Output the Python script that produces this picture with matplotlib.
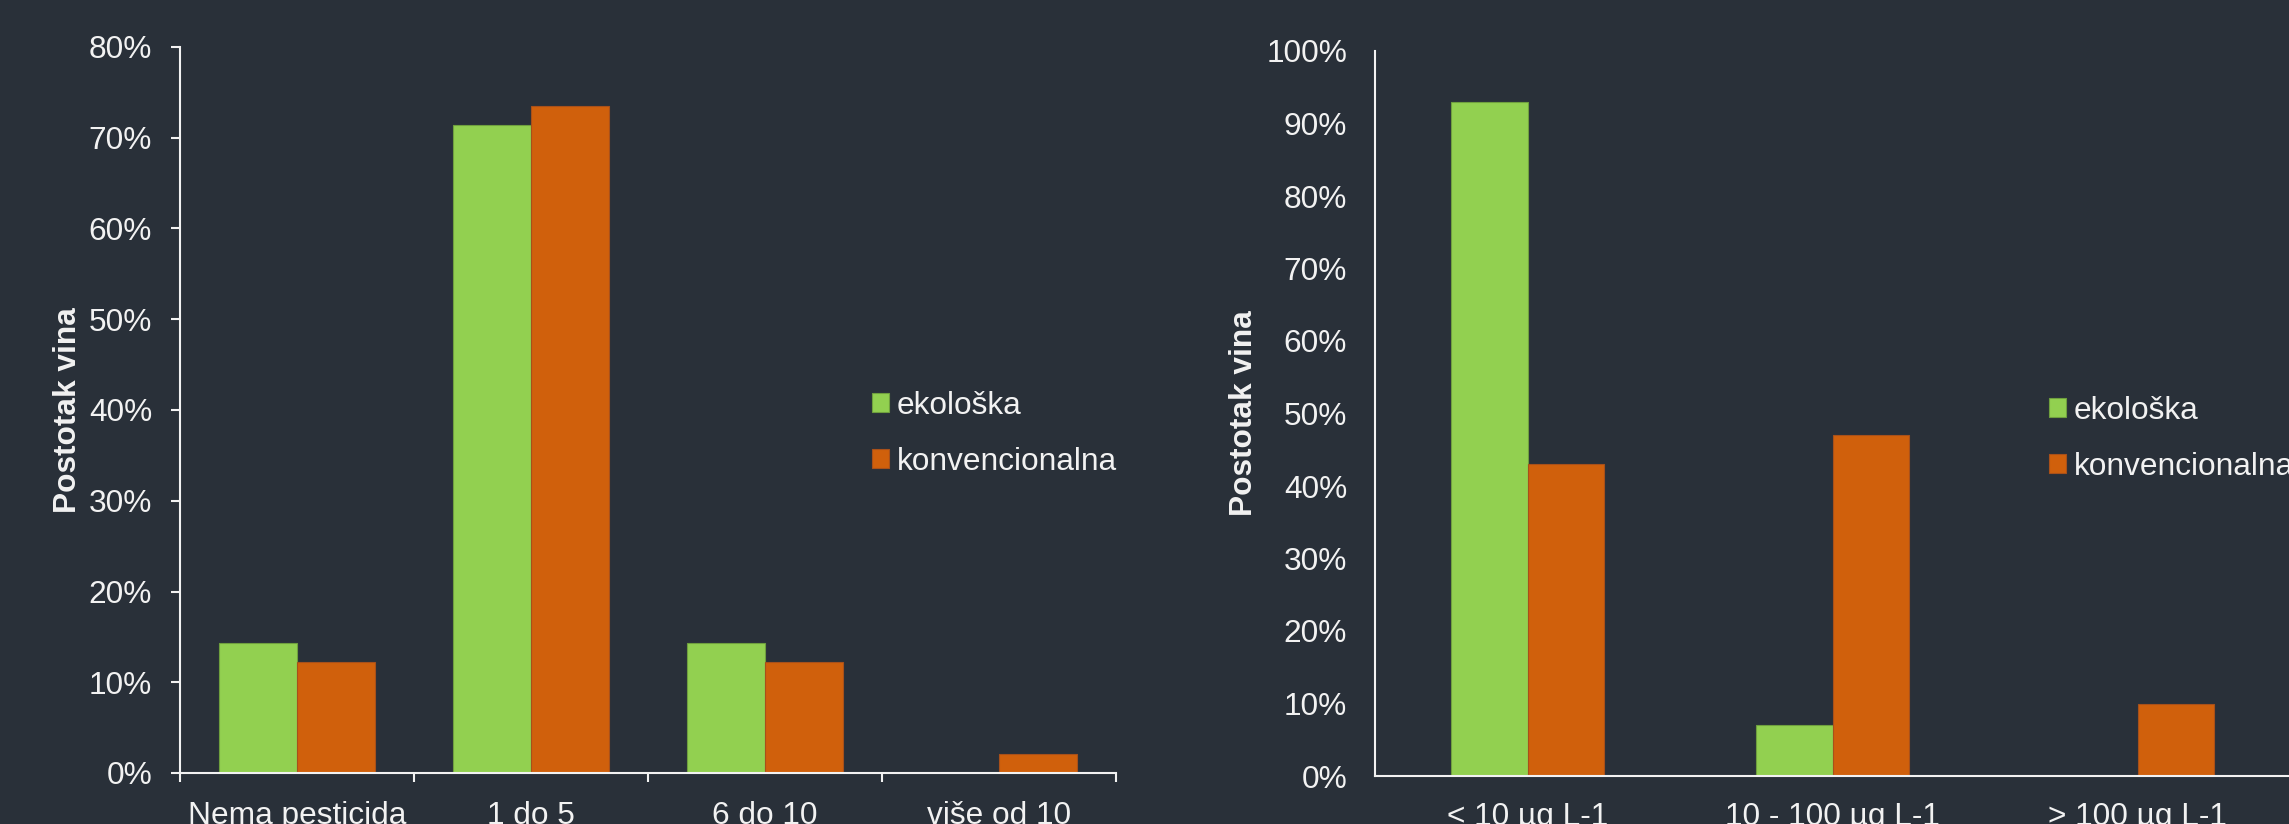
import matplotlib
matplotlib.use("Agg")
import matplotlib.pyplot as plt
from matplotlib.ticker import PercentFormatter, FixedLocator
from matplotlib.patches import Patch
import numpy as np

# Number of pesticide residues per wine
residue_counts = ["Nema pesticida", "1 do 5", "6 do 10", "više od 10"]
count_organic = [1 / 7, 5 / 7, 1 / 7, 0.0]
count_conventional = [6 / 49, 36 / 49, 6 / 49, 1 / 49]

# Total residue concentration per wine
concentration_ranges = ["< 10 µg L-1", "10 - 100 µg L-1", "> 100 µg L-1"]
conc_organic = [0.93, 0.07, 0.0]
conc_conventional = [0.43, 0.47, 0.10]

series_names = ["ekološka", "konvencionalna"]
y_label = "Postotak vina"

BG = "#293039"
FG = "#F2F2F2"
GREEN = "#92D050"
GREEN_EDGE = "#6F9F3E"
ORANGE = "#D0600C"
ORANGE_EDGE = "#A8501A"
FS = 22.8

plt.rcParams["font.family"] = ["Liberation Sans", "DejaVu Sans"]
plt.rcParams["font.size"] = FS

W, H = 2289, 824
fig = plt.figure(figsize=(W / 100, H / 100), dpi=100, facecolor=BG)


def px_axes(x0, x1, ytop, ybot):
    return fig.add_axes([x0 / W, 1 - ybot / H, (x1 - x0) / W, (ybot - ytop) / H])


def style(ax):
    ax.set_facecolor(BG)
    for s in ("top", "right"):
        ax.spines[s].set_visible(False)
    for s in ("left", "bottom"):
        ax.spines[s].set_color(FG)
        ax.spines[s].set_linewidth(1.5)
        ax.spines[s].set_zorder(3)
    ax.tick_params(colors=FG, labelcolor=FG, labelsize=FS, width=1.5)
    ax.yaxis.set_major_formatter(PercentFormatter(1.0, decimals=0))


def draw_bars(ax, cats, a, b, width):
    x = np.arange(len(cats))
    ax.bar(x - width / 2, a, width, color=GREEN, edgecolor=GREEN_EDGE,
           linewidth=0.8, zorder=2)
    ax.bar(x + width / 2, b, width, color=ORANGE, edgecolor=ORANGE_EDGE,
           linewidth=0.8, zorder=2)
    ax.set_xlim(-0.5, len(cats) - 0.5)
    ax.set_xticks(x)
    ax.set_xticklabels(cats)


def legend(ax, fx, fy):
    handles = [Patch(facecolor=GREEN, edgecolor=GREEN_EDGE, linewidth=0.8),
               Patch(facecolor=ORANGE, edgecolor=ORANGE_EDGE, linewidth=0.8)]
    leg = ax.legend(handles, series_names, loc="center left",
                    bbox_to_anchor=(fx / W, 1 - fy / H),
                    bbox_transform=fig.transFigure, frameon=False,
                    borderpad=0, borderaxespad=0, handlelength=0.54,
                    handleheight=0.54, handletextpad=0.25,
                    labelspacing=0.82, fontsize=FS)
    for t in leg.get_texts():
        t.set_color(FG)


# Left chart: residue counts
ax1 = px_axes(180, 1116, 47, 773)
style(ax1)
draw_bars(ax1, residue_counts, count_organic, count_conventional, 1 / 3)
ax1.set_ylim(0, 0.8)
ax1.set_yticks(np.arange(0, 0.81, 0.1))
ax1.tick_params(axis="y", direction="out", length=6.5, pad=13.5)
ax1.tick_params(axis="x", which="major", length=0, pad=20)
ax1.xaxis.set_minor_locator(FixedLocator(np.arange(-0.5, len(residue_counts), 1.0)))
ax1.tick_params(axis="x", which="minor", direction="out", length=6.5,
                width=1.5, color=FG)
ax1.set_ylabel(y_label, color=FG, fontweight="bold", fontsize=FS, labelpad=4)
legend(ax1, 872, 434)

# Right chart: concentration ranges
ax2 = px_axes(1375, 2290, 51, 776)
style(ax2)
draw_bars(ax2, concentration_ranges, conc_organic, conc_conventional, 0.25)
ax2.set_ylim(0, 1.0)
ax2.set_yticks(np.arange(0, 1.01, 0.1))
ax2.tick_params(axis="y", length=0, pad=20)
ax2.tick_params(axis="x", length=0, pad=19)
ax2.set_ylabel(y_label, color=FG, fontweight="bold", fontsize=FS, labelpad=5)
legend(ax2, 2049, 439)

fig.savefig("out.png", dpi=100, facecolor=BG)
